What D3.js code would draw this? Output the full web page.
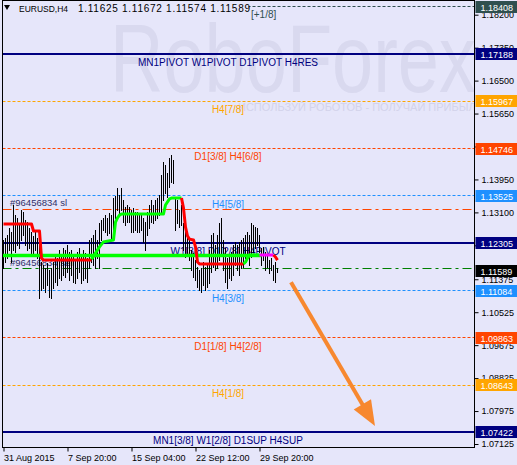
<!DOCTYPE html>
<html>
<head>
<meta charset="utf-8">
<script src="https://cdn.jsdelivr.net/npm/d3@7"></script>
<style>
body { margin: 0; background: #e6e6fa; }
svg { display: block; font-family: "Liberation Sans", Arial, sans-serif; }
</style>
</head>
<body>
<div id="chart"></div>
<script>
// EURUSD H4 bars (high / low per bar)
var highs = [
1.1239,1.1244,1.1252,1.1270,1.1259,1.1329,1.1303,1.1296,1.1277,1.1316,
1.1311,1.1290,1.1285,1.1270,1.1259,1.1249,1.1259,1.1244,1.1257,1.1182,
1.1174,1.1167,1.1179,1.1161,1.1167,1.1182,1.1200,1.1192,1.1213,1.1200,
1.1218,1.1213,1.1226,1.1208,1.1213,1.1200,1.1187,1.1208,1.1218,1.1200,
1.1213,1.1205,1.1192,1.1239,1.1244,1.1252,1.1265,1.1239,1.1283,1.1290,
1.1296,1.1303,1.1296,1.1308,1.1303,1.1347,1.1352,1.1373,1.1355,1.1373,
1.1342,1.1324,1.1329,1.1324,1.1316,1.1321,1.1311,1.1311,1.1303,1.1308,
1.1296,1.1285,1.1311,1.1329,1.1342,1.1329,1.1342,1.1347,1.1355,1.1406,
1.1440,1.1432,1.1412,1.1450,1.1458,1.1445,1.1350,1.1342,1.1316,1.1329,
1.1283,1.1265,1.1252,1.1239,1.1213,1.1205,1.1187,1.1169,1.1161,1.1167,
1.1182,1.1169,1.1179,1.1213,1.1252,1.1257,1.1226,1.1252,1.1283,1.1296,
1.1239,1.1218,1.1192,1.1200,1.1208,1.1226,1.1234,1.1226,1.1234,1.1239,
1.1244,1.1252,1.1259,1.1252,1.1283,1.1277,1.1272,1.1270,1.1252,1.1218,
1.1221,1.1208,1.1200,1.1187,1.1192,1.1174,1.1182,1.11672];
var lows = [
1.1167,1.1182,1.1192,1.1213,1.1182,1.1213,1.1208,1.1226,1.1218,1.1239,
1.1252,1.1226,1.1213,1.1218,1.1205,1.1200,1.1213,1.1192,1.1089,1.1110,
1.1115,1.1105,1.1123,1.1092,1.1089,1.1115,1.1130,1.1123,1.1141,1.1136,
1.1148,1.1143,1.1156,1.1136,1.1148,1.1130,1.1128,1.1141,1.1156,1.1128,
1.1136,1.1141,1.1130,1.1167,1.1182,1.1174,1.1167,1.1192,1.1167,1.1239,
1.1265,1.1259,1.1252,1.1257,1.1239,1.1239,1.1296,1.1316,1.1303,1.1316,
1.1285,1.1277,1.1285,1.1285,1.1259,1.1259,1.1265,1.1259,1.1259,1.1265,
1.1234,1.1213,1.1252,1.1270,1.1285,1.1283,1.1290,1.1296,1.1303,1.1311,
1.1342,1.1360,1.1350,1.1375,1.1388,1.1386,1.1265,1.1283,1.1272,1.1277,
1.1213,1.1195,1.1200,1.1187,1.1161,1.1143,1.1136,1.1117,1.1110,1.1105,
1.1123,1.1110,1.1117,1.1128,1.1156,1.1169,1.1161,1.1167,1.1187,1.1200,
1.1161,1.1130,1.1115,1.1141,1.1136,1.1148,1.1174,1.1161,1.1148,1.1167,
1.1169,1.1192,1.1192,1.1174,1.1195,1.1208,1.1218,1.1226,1.1208,1.1174,
1.1187,1.1161,1.1169,1.1154,1.1161,1.1136,1.1130,1.11574];

var quote = ["1.11625", "1.11672", "1.11574", "1.11589"];
var lastClose = 1.11589;

// murrey levels
var levelPrices = [1.18408, 1.17188, 1.15967, 1.14746, 1.13525, 1.12305, 1.11084, 1.09863, 1.08643, 1.07422];
var levelNames = ["[+1/8]", "MN1PIVOT W1PIVOT D1PIVOT H4RES", "H4[7/8]", "D1[3/8] H4[6/8]", "H4[5/8]",
  "W1[3/8] D1[2/8] H4PIVOT", "H4[3/8]", "D1[1/8] H4[2/8]", "H4[1/8]", "MN1[3/8] W1[2/8] D1SUP H4SUP"];

// order lines
var slPrice = 1.1318, sellPrice = 1.1166;
var pivotPrice = 1.1199, pivotEnd = 129;

// trend indicator pieces [bar, price]
var redA = [[0,1.1280],[14,1.1280],[15,1.1262],[18,1.1262],[19,1.1192],[20,1.1187],[44,1.1187]];
var greenA = [[44,1.1189],[46,1.1205],[48,1.1221],[50,1.1234],[55,1.1239],[56,1.1285],[57,1.1296],[58,1.1303],[59,1.1306],[80,1.1306],[81,1.1329],[83,1.1345],[84,1.1347],[89,1.1347]];
var redB = [[89,1.1347],[90,1.1321],[91,1.1272],[92,1.1249],[93,1.1241],[95,1.1239],[96,1.1221],[97,1.1182],[98,1.1177],[120,1.1177]];
var greenB = [[120,1.1177],[121,1.1182],[122,1.1192],[123,1.1200],[128,1.1200]];
var magentaA = [[128,1.1200],[135,1.1200]];
var redC = [[135,1.1200],[136,1.1195],[137,1.1187]];

// forecast arrow [bar, price]
var arrowFrom = [143.75, 1.1130], arrowTo = [185.75, 1.0759];

var yTicks = [1.18200, 1.17350, 1.16500, 1.15650, 1.14800, 1.13950, 1.13100, 1.12250, 1.11375, 1.10525, 1.09675, 1.08825, 1.07975, 1.07125];
var xTickBars = [0, 32, 64, 96, 128];
var xTickLabels = ["31 Aug 2015", "7 Sep 20:00", "15 Sep 04:00", "22 Sep 12:00", "29 Sep 20:00"];

// styles
var levelColors = ["#2f4f4f", "#000080", "#ffa500", "#ff4500", "#1e90ff", "#000080", "#1e90ff", "#ff4500", "#ffa500", "#000080"];
var bg = "#e6e6fa";

var drawChart = function() {
  var width = 517, height = 465;
  var pl = 2.5, pt = 0.5, pr = 474.5, pb = 447.5;

  var svg = d3.select("#chart").append("svg")
    .attr("width", width)
    .attr("height", height);

  svg.append("rect").attr("width", width).attr("height", height).attr("fill", bg);

  var x = d3.scaleLinear().domain([0, 1]).range([3.5, 5.5]);
  var y = d3.scaleLinear().domain([1.07125, 1.182]).range([444, 14.7]);
  var py = function(p) { return Math.round(y(p) - 0.5) + 0.5; };

  svg.append("clipPath").attr("id", "clip").append("rect")
    .attr("x", pl).attr("y", pt).attr("width", pr - pl).attr("height", pb - pt);

  var plot = svg.append("g").attr("clip-path", "url(#clip)");

  // watermark
  plot.append("text")
    .attr("x", 110).attr("y", 92)
    .attr("textLength", 366).attr("lengthAdjust", "spacingAndGlyphs")
    .style("font-size", "96px")
    .attr("fill", "#d9d9ef")
    .text("RoboForex");
  plot.append("text")
    .attr("x", 238).attr("y", 111)
    .style("font-size", "11px")
    .attr("fill", "#d3d3ea")
    .text("ИСПОЛЬЗУЙ РОБОТОВ - ПОЛУЧАЙ ПРИБЫЛЬ");

  // level lines
  levelPrices.forEach(function(p, i) {
    var solid = levelColors[i] == "#000080";
    plot.append("line")
      .attr("x1", pl).attr("x2", pr)
      .attr("y1", solid ? Math.round(y(p)) : py(p))
      .attr("y2", solid ? Math.round(y(p)) : py(p))
      .attr("stroke", levelColors[i])
      .attr("stroke-width", solid ? 2 : 1)
      .attr("stroke-dasharray", solid ? null : "3,2");
  });

  // title background hides the top line
  plot.append("rect").attr("x", pl).attr("y", 1).attr("width", 246).attr("height", 13).attr("fill", bg);

  levelPrices.forEach(function(p, i) {
    var first = i == 0;
    plot.append("text")
      .attr("x", first ? 251 : 228)
      .attr("y", y(p) + (first ? 11.5 : 11.8))
      .attr("text-anchor", first ? "start" : "middle")
      .style("font-size", "10px")
      .attr("fill", levelColors[i])
      .text(levelNames[i]);
  });

  // order lines
  plot.append("line")
    .attr("x1", pl).attr("x2", pr).attr("y1", py(slPrice)).attr("y2", py(slPrice))
    .attr("stroke", "#ff4500").attr("stroke-dasharray", "9,4,3,4");
  plot.append("line")
    .attr("x1", pl).attr("x2", pr).attr("y1", py(sellPrice)).attr("y2", py(sellPrice))
    .attr("stroke", "#008000").attr("stroke-dasharray", "9,4,3,4");
  plot.append("text").attr("x", 10).attr("y", y(slPrice) - 3)
    .style("font-size", "9.5px").attr("fill", "#303068").text("#96456834 sl");
  plot.append("text").attr("x", 10).attr("y", y(sellPrice) - 2)
    .style("font-size", "9.5px").attr("fill", "#303068").text("#96456834 sell");

  // bars
  plot.append("g").selectAll("line").data(highs).enter()
    .append("line")
    .attr("x1", function(d, i) { return x(i); })
    .attr("x2", function(d, i) { return x(i); })
    .attr("y1", function(d) { return Math.round(y(d)); })
    .attr("y2", function(d, i) { return Math.round(y(lows[i])) + 1; })
    .attr("stroke", "#000")
    .attr("stroke-width", 1);

  // pivot line
  plot.append("line")
    .attr("x1", pl).attr("x2", x(pivotEnd))
    .attr("y1", y(pivotPrice)).attr("y2", y(pivotPrice))
    .attr("stroke", "#00ff00").attr("stroke-width", 3.5);

  var line = d3.line().x(function(d) { return x(d[0]); }).y(function(d) { return y(d[1]); });
  [[redA, "#ff0000"], [greenA, "#00ff00"], [redB, "#ff0000"], [greenB, "#00ff00"], [magentaA, "#ff00ff"], [redC, "#ff0000"]]
    .forEach(function(s) {
      plot.append("path").datum(s[0]).attr("d", line)
        .attr("fill", "none").attr("stroke", s[1]).attr("stroke-width", 3)
        .attr("stroke-linejoin", "round");
    });

  // arrow
  var ax0 = x(arrowFrom[0]), ay0 = y(arrowFrom[1]), ax1 = x(arrowTo[0]), ay1 = y(arrowTo[1]);
  var len = Math.sqrt((ax1 - ax0) * (ax1 - ax0) + (ay1 - ay0) * (ay1 - ay0));
  var ux = (ax1 - ax0) / len, uy = (ay1 - ay0) / len;
  var bx = ax1 - 25 * ux, by = ay1 - 25 * uy;
  plot.append("line").attr("x1", ax0).attr("y1", ay0).attr("x2", bx + 2 * ux).attr("y2", by + 2 * uy)
    .attr("stroke", "#f7882f").attr("stroke-width", 4);
  plot.append("path")
    .attr("d", "M" + ax1 + "," + ay1 + "L" + (bx - 10 * uy) + "," + (by + 10 * ux) + "L" + (bx + 10 * uy) + "," + (by - 10 * ux) + "Z")
    .attr("fill", "#f7882f");

  // title
  svg.append("path").attr("d", "M4,5L10,5L7,10Z").attr("fill", "#000");
  svg.append("text").attr("x", 19).attr("y", 12).style("font-size", "9.5px")
    .attr("textLength", 49).attr("lengthAdjust", "spacingAndGlyphs").attr("fill", "#000").text("EURUSD,H4");
  svg.append("text").attr("x", 78).attr("y", 12).style("font-size", "10px").attr("textLength", 172).attr("fill", "#000").text(quote.join(" "));

  // frame
  svg.append("rect")
    .attr("x", pl).attr("y", pt).attr("width", pr - pl).attr("height", pb - pt)
    .attr("fill", "none").attr("stroke", "#000");

  // price axis
  var yAxis = svg.append("g")
    .attr("transform", "translate(" + pr + ",0)")
    .call(d3.axisRight(y).tickValues(yTicks).tickFormat(d3.format(".5f")).tickSize(4).tickSizeOuter(0).tickPadding(3));
  yAxis.select(".domain").remove();
  yAxis.selectAll("text").style("font-size", "9px").style("font-family", "Liberation Sans, Arial").attr("fill", "#000");
  yAxis.selectAll("line").attr("stroke", "#000");

  // price boxes
  var boxPrices = levelPrices.concat([lastClose]);
  var boxColors = levelColors.concat(["#000000"]);
  boxPrices.forEach(function(p, i) {
    svg.append("rect")
      .attr("x", pr + 1).attr("y", Math.round(y(p)) - 6)
      .attr("width", width - pr).attr("height", 12)
      .attr("fill", boxColors[i]);
    svg.append("text")
      .attr("x", pr + 6).attr("y", Math.round(y(p)) + 3.5)
      .style("font-size", "9px")
      .attr("fill", "#fff")
      .text(d3.format(".5f")(p));
  });

  // time axis
  var xAxis = svg.append("g")
    .attr("transform", "translate(0," + pb + ")")
    .call(d3.axisBottom(x).tickValues(xTickBars)
      .tickFormat(function(d, i) { return xTickLabels[i]; })
      .tickSize(4).tickSizeOuter(0).tickPadding(3));
  xAxis.select(".domain").remove();
  xAxis.selectAll("text").style("font-size", "9px").style("font-family", "Liberation Sans, Arial")
    .attr("text-anchor", "start").attr("x", 0).attr("fill", "#000");
  xAxis.selectAll("line").attr("stroke", "#000");
};

drawChart();
</script>
</body>
</html>
